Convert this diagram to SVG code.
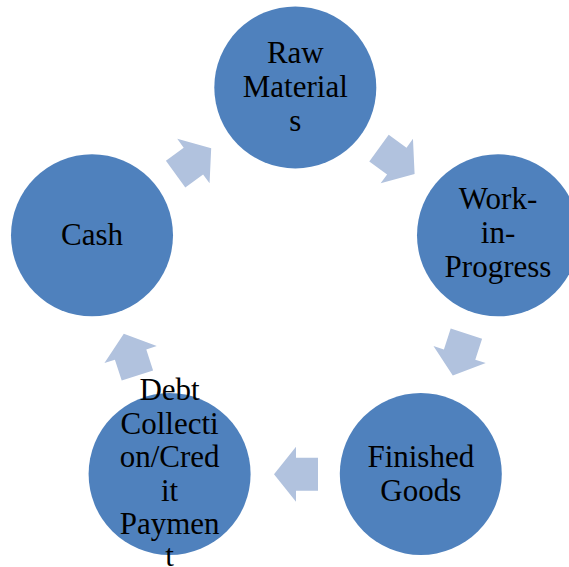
<svg xmlns="http://www.w3.org/2000/svg" width="569" height="567" viewBox="0 0 569 567">
  <defs>
    <style>
      .node { fill: #4F81BD; }
      .arrow { fill: #B1C2DE; }
      text { font-family: "Times New Roman", "Liberation Serif", Times, "DejaVu Serif", serif; font-size: 31px; fill: #000000; text-anchor: middle; }
    </style>
    <path id="arr" d="M-22,-16.5 L0,-16.5 L0,-27.5 L22,0 L0,27.5 L0,16.5 L-22,16.5 Z"/>
  </defs>
  <rect width="569" height="567" fill="#ffffff"/>
  <g id="connectors">
    <use href="#arr" class="arrow" transform="translate(396.8,161.1) rotate(36)"/>
    <use href="#arr" class="arrow" transform="translate(459.6,354.6) rotate(108)"/>
    <use href="#arr" class="arrow" transform="translate(296,474.2) rotate(180)"/>
    <use href="#arr" class="arrow" transform="translate(130.6,354.6) rotate(252)"/>
    <use href="#arr" class="arrow" transform="translate(193.4,161.1) rotate(324)"/>
  </g>
  <g id="raw-materials">
    <circle class="node" cx="295.3" cy="87.4" r="81"/>
    <text x="295.3" y="63">Raw</text>
    <text x="295.3" y="97">Material</text>
    <text x="295.3" y="131">s</text>
  </g>
  <g id="work-in-progress">
    <circle class="node" cx="498" cy="235.3" r="81"/>
    <text x="498" y="209">Work-</text>
    <text x="498" y="243">in-</text>
    <text x="498" y="277">Progress</text>
  </g>
  <g id="finished-goods">
    <circle class="node" cx="420.8" cy="474" r="81"/>
    <text x="420.8" y="467">Finished</text>
    <text x="420.8" y="501">Goods</text>
  </g>
  <g id="debt-collection">
    <circle class="node" cx="169.6" cy="474" r="81"/>
    <text x="169.6" y="400">Debt</text>
    <text x="169.6" y="433.5">Collecti</text>
    <text x="169.6" y="467">on/Cred</text>
    <text x="169.6" y="500.5">it</text>
    <text x="169.6" y="534">Paymen</text>
    <text x="169.6" y="566">t</text>
  </g>
  <g id="cash">
    <circle class="node" cx="92" cy="235.3" r="81"/>
    <text x="92" y="245">Cash</text>
  </g>
</svg>
